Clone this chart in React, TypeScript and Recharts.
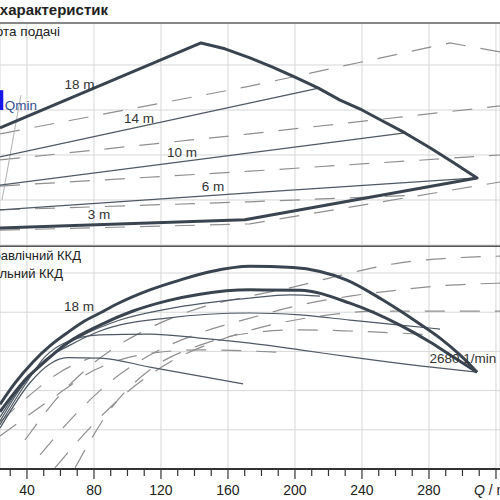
import React from "react";
import {
  LineChart,
  Line,
  XAxis,
  YAxis,
  CartesianGrid,
  ReferenceLine,
  ReferenceDot,
} from "recharts";

type Pt = { q: number; v: number };
const pts = (rows: number[][]): Pt[] => rows.map(([q, v]) => ({ q, v }));

// shared flow axis (cropped view)
const X_DOMAIN: [number, number] = [23.9, 322.4];
const gridQ = [40, 80, 120, 160, 200, 240, 280, 320];
const axisTicks = [30, 40, 50, 60, 70, 80, 90, 100, 110, 120, 130, 140, 150, 160, 170, 180, 190, 200, 210, 220, 230, 240, 250, 260, 270, 280, 290, 300, 310, 320];

// ---- top panel: head ----
const topTicks = [10, 20, 30, 40];
const envelope = pts([
  [23.9, 3.8], [170.1, 5.6], [308.7, 14.9], [294.3, 18.4], [280.6, 21.6], [265.7, 24.9],
  [252.0, 27.6], [240.0, 30], [226.9, 32.2], [213.7, 34.9], [200, 37.3], [186.3, 39.6],
  [173.1, 41.6], [158.2, 43.6], [143.9, 44.9], [23.9, 26],
]);
const head14 = pts([[23.9, 19.6], [214.9, 34.9]]);
const head10 = pts([[23.9, 13.3], [265.7, 24.9]]);
const head6 = pts([[23.9, 7.8], [173.1, 11.6], [308.7, 14.9]]);
const dashTop1 = pts([[23.9, 24.7], [173.1, 35.3], [292.5, 44.9], [322.4, 42.9]]);
const dashTop2 = pts([[23.9, 18.9], [173.1, 24.7], [322.4, 30.9]]);
const dashTop3 = pts([[23.9, 13.1], [173.1, 16.4], [322.4, 20]]);
const dashTop4 = pts([[23.9, 7.8], [173.1, 9.6], [274.6, 11.1]]);
const dashTop5 = pts([[23.9, 3.3], [173.1, 4.7], [322.4, 14]]);
const qminLine = pts([[36.4, 33.3], [25.1, 10]]);
const qminMark = pts([[24.8, 34.4], [24.8, 30]]);
const topLabels = [
  { t: "18 m", q: 71.4, v: 35.8 },
  { t: "14 m", q: 106.9, v: 28.2 },
  { t: "10 m", q: 132.5, v: 20.7 },
  { t: "6 m", q: 151.0, v: 13.1 },
  { t: "3 m", q: 83.0, v: 6.9 },
];

// ---- bottom panel: efficiency ----
const botTicks = [10, 20, 30, 40, 50];
const effHydraulic = pts([
  [23.9, 16.5], [32.8, 21.9], [43.6, 27.3], [53.7, 31.4], [63.9, 34.7], [73.4, 37.5],
  [83.6, 39.8], [93.7, 42.1], [113.4, 45.7], [131.3, 48.2], [149.3, 50.3], [173.1, 51.7],
  [198.8, 51.4], [214.9, 50.4], [231.0, 48.2], [252.5, 43.1], [272.8, 37.5], [286.6, 33.4],
  [298.5, 29.1], [308.7, 24.7],
]);
const effTotal = pts([
  [23.9, 14.6], [32.8, 19.6], [38.8, 22.7], [47.8, 26.3], [63.9, 32.1], [83.6, 36.7],
  [103.3, 40.3], [123.6, 42.9], [143.3, 44.6], [173.1, 45.7], [203.0, 45.6], [232.8, 42.3],
  [262.7, 36.7], [280.6, 32.4], [295.5, 28.3], [308.7, 24.7],
]);
const thinA = pts([[23.9, 13.2], [32.8, 19.0], [41.8, 23.6], [56.7, 29.8], [71.6, 33.7], [95.5, 38.0], [123.6, 40.8], [173.1, 43.6], [197.0, 44.4], [214.9, 44.1]]);
const thinB = pts([[23.9, 12.2], [35.8, 20.4], [50.7, 27.8], [65.7, 31.6], [83.6, 35.2], [123.6, 38.5], [173.1, 39.8], [203.0, 39.3], [232.8, 38.0], [262.7, 36.7], [286.6, 35.7]]);
const thinC = pts([[23.9, 11.3], [38.8, 21.5], [50.7, 28.6], [62.7, 32.2], [83.6, 34.2], [113.4, 34.4], [143.3, 33.4], [173.1, 32.1], [203.0, 30.4], [232.8, 28.6], [274.6, 26.3], [308.7, 24.7]]);
const thinD = pts([[23.9, 10.4], [41.8, 22.0], [53.7, 26.8], [63.9, 28.4], [83.6, 28.3], [113.4, 26.0], [143.3, 23.7], [169.0, 21.7]]);
const dashBot1 = pts([[38.8, 7.4], [59.7, 18.9], [83.6, 28.3], [113.4, 36.0], [143.3, 41.1], [173.1, 44.1], [198.8, 46.4], [232.8, 50.0], [262.7, 52.6], [292.5, 53.8], [322.4, 54.3]]);
const dashBot2 = pts([[47.8, 3.6], [68.7, 13.8], [89.6, 22.2], [113.4, 29.1], [143.3, 34.7], [173.1, 38.5], [203.0, 41.8], [232.8, 44.1], [262.7, 45.7], [292.5, 46.9], [322.4, 47.4]]);
const dashBot3 = pts([[56.7, 0.3], [77.6, 10.5], [101.5, 20.2], [125.4, 27.3], [155.2, 32.9], [185.1, 36.7], [214.9, 39.0], [250.7, 40.3], [286.6, 40.3], [322.4, 40.3]]);
const dashBot4 = pts([[68.7, 0.3], [89.6, 15.1], [113.4, 25.3], [143.3, 31.6], [173.1, 34.7], [203.0, 35.5], [232.8, 35.2], [283.6, 34.2]]);
const dashBot5 = pts([[23.9, 8.4], [53.7, 17.6], [80.6, 25.3], [107.5, 29.1], [143.3, 30.4], [189.3, 29.8]]);
const dashBot6 = pts([[23.9, 12.0], [41.8, 18.9], [59.7, 24.7], [77.6, 28.3]]);
const botLabels = [
  { t: "18 m", q: 71.0, v: 41.6 },
  { t: "2680 1/min", q: 300.3, v: 28.2 },
];

const THICK = "#3a4450";
const THIN = "#4e5964";
const DASH = "#8f8f8f";
const GRID = "#d6d6d6";
const FONT = "'Liberation Sans', Arial, sans-serif";

const AxisTick = (props: any) => {
  const { x, y, payload } = props;
  const val = payload.value as number;
  const major = val % 40 === 0;
  return (
    <g>
      <line x1={x} x2={x} y1={y} y2={y + (major ? 10 : 7)} stroke="#333" strokeWidth={1.2} />
      {val === 320 ? (
        <text x={x - 22} y={y + 26} fontSize={14} fill="#222">
          <tspan fontStyle="italic">Q</tspan> / m³/h
        </text>
      ) : major ? (
        <text x={x} y={y + 26} fontSize={14} fill="#222" textAnchor="middle">
          {val}
        </text>
      ) : null}
    </g>
  );
};

export default function App() {
  const thinTop = [head14, head10, head6];
  const dashTop = [dashTop1, dashTop2, dashTop3, dashTop4, dashTop5];
  const thinBot = [thinA, thinB, thinC, thinD];
  const dashBot = [dashBot1, dashBot2, dashBot3, dashBot4, dashBot5, dashBot6];

  return (
    <div
      style={{
        position: "absolute",
        left: 0,
        top: 0,
        width: 500,
        height: 500,
        overflow: "hidden",
        background: "#fff",
        fontFamily: FONT,
      }}
    >
      <div style={{ position: "absolute", left: 0, top: 0 }}>
        <LineChart width={500} height={500} margin={{ top: 246, right: 0, bottom: 0, left: 0 }}>
          <CartesianGrid stroke={GRID} />
          <XAxis hide orientation="top" type="number" dataKey="q" domain={X_DOMAIN} allowDataOverflow ticks={gridQ} />
          <XAxis
            xAxisId="ax"
            type="number"
            dataKey="q"
            domain={X_DOMAIN}
            allowDataOverflow
            ticks={axisTicks}
            interval={0}
            height={31}
            axisLine={{ stroke: "#333", strokeWidth: 2 }}
            tickLine={false}
            tickSize={0}
            tickMargin={0}
            tick={<AxisTick />}
          />
          <YAxis hide type="number" domain={[0, 56.89]} allowDataOverflow ticks={botTicks} />
          <ReferenceLine y={56.89} stroke="#222" strokeWidth={1.5} />
          {dashBot.map((d, i) => (
            <Line key={"db" + i} data={d} dataKey="v" type="monotone" stroke={DASH} strokeWidth={1.2} strokeDasharray="20 15" dot={false} isAnimationActive={false} />
          ))}
          {thinBot.map((d, i) => (
            <Line key={"tb" + i} data={d} dataKey="v" type="monotone" stroke={THIN} strokeWidth={1.2} dot={false} isAnimationActive={false} />
          ))}
          <Line data={effTotal} dataKey="v" type="monotone" stroke={THICK} strokeWidth={3} dot={false} isAnimationActive={false} />
          <Line data={effHydraulic} dataKey="v" type="monotone" stroke={THICK} strokeWidth={3} dot={false} isAnimationActive={false} />
          {botLabels.map((l) => (
            <ReferenceDot key={l.t} x={l.q} y={l.v} r={0} fill="none" stroke="none" ifOverflow="visible"
              label={{ value: l.t, position: "center", fill: "#333", fontSize: 13.5 }} />
          ))}
        </LineChart>
      </div>

      <div style={{ position: "absolute", left: 0, top: 0 }}>
        <LineChart width={500} height={246} margin={{ top: 23, right: 0, bottom: 1, left: 0 }}>
          <CartesianGrid stroke={GRID} />
          <XAxis hide type="number" dataKey="q" domain={X_DOMAIN} allowDataOverflow ticks={gridQ} />
          <YAxis hide type="number" domain={[0, 49.33]} allowDataOverflow ticks={topTicks} />
          <ReferenceLine y={49.33} stroke="#666" strokeWidth={1.5} />
          {dashTop.map((d, i) => (
            <Line key={"dt" + i} data={d} dataKey="v" type="linear" stroke={DASH} strokeWidth={1.2} strokeDasharray="20 15" dot={false} isAnimationActive={false} />
          ))}
          <Line data={qminLine} dataKey="v" type="linear" stroke="#b0b0b0" strokeWidth={1} dot={false} isAnimationActive={false} />
          {thinTop.map((d, i) => (
            <Line key={"tt" + i} data={d} dataKey="v" type="linear" stroke={THIN} strokeWidth={1.2} dot={false} isAnimationActive={false} />
          ))}
          <Line data={envelope} dataKey="v" type="linear" stroke={THICK} strokeWidth={3} strokeLinejoin="round" dot={false} isAnimationActive={false} />
          <Line data={qminMark} dataKey="v" type="linear" stroke="#1616e8" strokeWidth={3.5} dot={false} isAnimationActive={false} />
          {topLabels.map((l) => (
            <ReferenceDot key={l.t} x={l.q} y={l.v} r={0} fill="none" stroke="none" ifOverflow="visible"
              label={{ value: l.t, position: "center", fill: "#333", fontSize: 13.5 }} />
          ))}
          <ReferenceDot x={36.4} y={31.1} r={0} fill="none" stroke="none" ifOverflow="visible"
            label={{ value: "Qmin", position: "center", fill: "#34508f", fontSize: 13.5 }} />
        </LineChart>
      </div>

      <svg width={500} height={500} style={{ position: "absolute", left: 0, top: 0, pointerEvents: "none" }}>
        <text x={108} y={14.5} textAnchor="end" fontSize={15} fontWeight="bold" fill="#222">
          Поле характеристик
        </text>
        <text x={60} y={36} textAnchor="end" fontSize={13.5} fill="#222">
          Висота подачі
        </text>
        <text x={81} y={259.5} textAnchor="end" fontSize={13} fill="#222">
          Гідравлічний ККД
        </text>
        <text x={63} y={277.5} textAnchor="end" fontSize={13} fill="#222">
          Загальний ККД
        </text>
      </svg>
    </div>
  );
}
